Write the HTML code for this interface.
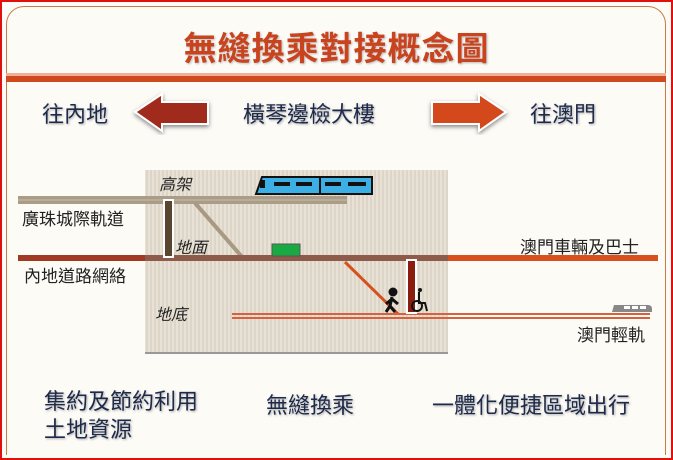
<!DOCTYPE html>
<html><head><meta charset="utf-8"><style>
body{margin:0;width:673px;height:460px;overflow:hidden;background:#fff;font-family:"Liberation Sans","Noto Sans CJK TC",sans-serif}
.t{position:absolute;white-space:nowrap}
</style></head><body>
<div style="position:absolute;left:0;top:0;width:669px;height:456px;border:2px solid #e0100f;background:#fdfbf6"></div>
<div style="position:absolute;left:6px;top:6px;width:658px;height:448px;border:1px solid #c87a48;border-radius:18px 18px 0 0;border-bottom:none"></div>
<div class="t" style="left:0;width:673px;text-align:center;top:22px;font-size:33px;color:#c8431e;font-weight:bold;letter-spacing:1px;text-shadow:1px 1px 2px #bbb">無縫換乘對接概念圖</div>
<div style="position:absolute;left:6px;top:73px;width:660px;height:3px;background:#efb09a"></div>
<div style="position:absolute;left:6px;top:76px;width:660px;height:6px;background:#d04a20"></div>
<svg style="position:absolute;left:0;top:0" width="673" height="460">
<defs><filter id="s"><feDropShadow dx="0" dy="2" stdDeviation="2" flood-color="#888"/></filter></defs>
<polygon points="135,112 162,94 162,102 208,102 208,124 162,124 162,131" fill="#a02a1e" stroke="#fff" stroke-width="2" filter="url(#s)"/>
<polygon points="506,112 479,94 479,102 432,102 432,124 479,124 479,131" fill="#d44a1e" stroke="#fff" stroke-width="2" filter="url(#s)"/>
<defs><pattern id="p" width="4" height="4" patternUnits="userSpaceOnUse"><rect width="4" height="4" fill="#ddd6c8"/><rect width="2" height="4" fill="#e8e2d6"/></pattern></defs>
<rect x="145" y="170" width="303" height="182" fill="url(#p)"/>
<line x1="145" y1="353" x2="448" y2="353" stroke="#999" stroke-width="2"/>
<rect x="18" y="196" width="329" height="8" fill="#aa9d88"/>
<line x1="18" y1="200" x2="347" y2="200" stroke="#c8bca8" stroke-width="1"/>
<line x1="195" y1="203" x2="243" y2="258" stroke="#a89a82" stroke-width="4"/>
<rect x="18" y="255" width="640" height="6" fill="#d8501e"/>
<rect x="18" y="255" width="128" height="6" fill="#a03a22"/>
<rect x="145" y="255" width="303" height="6" fill="#8e5a4a"/>
<line x1="345" y1="262" x2="398" y2="314" stroke="#d4521e" stroke-width="3"/>
<rect x="232" y="313" width="418" height="2" fill="#d8603a"/>
<rect x="232" y="317" width="418" height="2" fill="#d8603a"/>
<rect x="164" y="200" width="9" height="57" fill="#5a4530" stroke="#fff" stroke-width="2"/>
<rect x="407" y="260" width="9" height="53" fill="#8a1c10" stroke="#fff" stroke-width="2"/>
<rect x="272" y="244" width="28" height="12" fill="#1aaa44" stroke="#555" stroke-width="1"/>
<path d="M262,177 L372,177 L372,194 L256,194 Z" fill="#3cb0e4" stroke="#111" stroke-width="2"/>
<line x1="320" y1="177" x2="320" y2="194" stroke="#111" stroke-width="2"/>
<g fill="#111"><rect x="274" y="182" width="16" height="4"/><rect x="296" y="182" width="16" height="4"/><rect x="325" y="182" width="16" height="4"/><rect x="348" y="182" width="18" height="4"/><rect x="260" y="180" width="5" height="8"/></g>
<g stroke="#111" stroke-width="3" fill="none"><circle cx="393" cy="292" r="3" fill="#111"/><path d="M392,297 L390,306 L386,312 M390,306 L395,312 M392,299 L386,304 M392,299 L398,304"/></g>
<g stroke="#111" stroke-width="2" fill="none"><circle cx="417" cy="306" r="5"/><path d="M419,292 L419,303 L425,303 L427,311"/></g>
<circle cx="420" cy="290" r="2" fill="#111"/>
<path d="M614,305 L648,305 Q652,305 652,309 L652,312 L612,312 Z" fill="#888"/>
<g fill="#fff"><rect x="624" y="306" width="6" height="3"/><rect x="632" y="306" width="6" height="3"/><rect x="640" y="306" width="6" height="3"/></g>
</svg>
<div class="t" style="left:42px;top:97px;font-size:22px;color:#1e2a4a;text-shadow:1px 1px 2px #aaa">往內地</div>
<div class="t" style="left:243px;top:97px;font-size:22px;color:#1e2a4a;text-shadow:1px 1px 2px #aaa">橫琴邊檢大樓</div>
<div class="t" style="left:530px;top:97px;font-size:22px;color:#1e2a4a;text-shadow:1px 1px 2px #aaa">往澳門</div>
<div class="t" style="left:159px;top:171px;font-size:16px;font-style:italic;color:#222">高架</div>
<div class="t" style="left:175px;top:234px;font-size:16px;font-style:italic;color:#222">地面</div>
<div class="t" style="left:155px;top:301px;font-size:16px;font-style:italic;color:#222">地底</div>
<div class="t" style="left:22px;top:205px;font-size:17px;color:#222">廣珠城際軌道</div>
<div class="t" style="left:24px;top:262px;font-size:17px;color:#222">內地道路網絡</div>
<div class="t" style="left:520px;top:233px;font-size:17px;color:#222">澳門車輛及巴士</div>
<div class="t" style="left:577px;top:321px;font-size:17px;color:#222">澳門輕軌</div>
<div class="t" style="left:44px;top:388px;font-size:22px;line-height:28px;color:#1e2a4a;text-shadow:1px 1px 2px #aaa">集約及節約利用<br>土地資源</div>
<div class="t" style="left:266px;top:388px;font-size:22px;color:#1e2a4a;text-shadow:1px 1px 2px #aaa">無縫換乘</div>
<div class="t" style="left:432px;top:388px;font-size:22px;color:#1e2a4a;text-shadow:1px 1px 2px #aaa">一體化便捷區域出行</div>
</body></html>
